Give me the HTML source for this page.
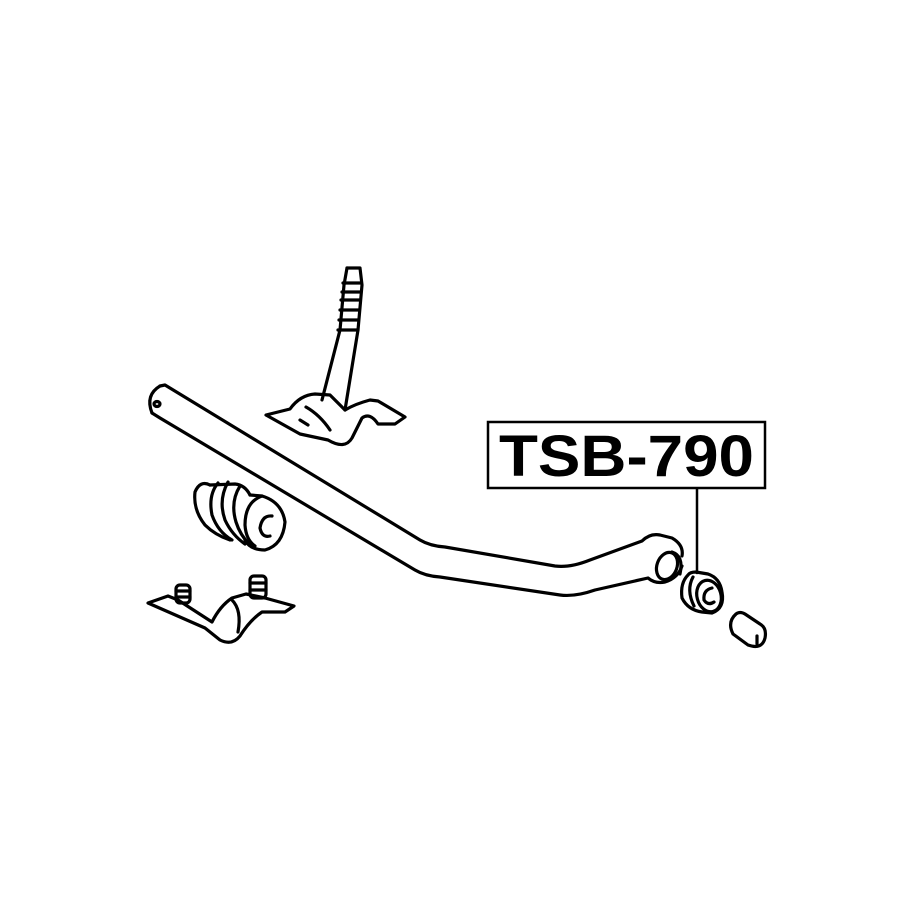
<!DOCTYPE html>
<html><head><style>
html,body{margin:0;padding:0;background:#fff;}
svg{display:block;}
</style></head><body>
<svg width="915" height="915" viewBox="0 0 915 915" xmlns="http://www.w3.org/2000/svg">
<rect width="915" height="915" fill="#fff"/>
<g fill="none" stroke="#000" stroke-width="3.2" stroke-linejoin="round" stroke-linecap="round">
<path d="M160,386 L165,385 L420,540 Q430,546 445,547 L555,566 Q570,568 590,560 L642,541 Q650,533 660,535 L672,538 Q684,545 682,556"/>
<path d="M152,413 L160,418 L415,570 Q425,576 440,577 L560,595 Q575,597 595,590 L648,578 Q655,584 665,582 Q678,578 682,566"/>
<path d="M160,386 Q145,395 152,413"/>
<ellipse cx="157" cy="404" rx="3" ry="2.5"/>
<ellipse cx="667" cy="566" rx="10" ry="14" transform="rotate(20 667 566)"/>
<path d="M672,552 Q684,556 680,574"/>
<path d="M347,268 L360,268 L362,285 L358,330 L345,410"/>
<path d="M347,268 L344,285 L340,330 L322,400"/>
<path d="M343,283 L360,283 M342,292 L360,292 M341,300 L359,300 M340,310 L358,310 M339,320 L358,320 M338,330 L358,330"/>
<path d="M266,415 L290,409 Q300,395 315,394 L330,395 L345,410 Q355,404 370,400 L378,401 L405,417 L395,424 L378,424 Q370,412 362,418 L352,438 Q345,450 328,440 L300,434 Z"/>
<path d="M306,407 Q320,415 330,430"/>
<path d="M308,425 L300,420"/>
<path d="M210,485 Q200,480 195,492 Q193,510 205,525 Q215,535 230,540"/>
<path d="M210,485 L235,484 Q245,485 250,495"/>
<path d="M218,483 Q208,495 212,515 Q218,532 232,540"/>
<path d="M228,482 Q218,500 225,520 Q232,535 245,544"/>
<path d="M240,486 Q230,502 236,522 Q240,535 250,545"/>
<path d="M250,495 L262,496 Q282,502 285,522 Q283,545 265,550 Q250,550 245,540"/>
<path d="M262,496 Q245,502 245,525 Q246,540 255,546"/>
<path d="M272,516 Q262,515 260,528 Q262,538 270,536"/>
<path d="M148,603 L168,596 L178,600 L212,622 Q220,606 232,598 L246,594 L265,598 L294,606 L285,612 L262,612 Q250,620 240,636 Q232,646 220,640 L205,628 Z"/>
<rect x="176" y="585" width="14" height="18" rx="4"/>
<path d="M176,591 L190,591 M176,597 L190,597"/>
<rect x="250" y="576" width="16" height="22" rx="4"/>
<path d="M250,583 L266,583 M250,590 L266,590"/>
<path d="M232,600 Q242,610 238,632"/>
<path d="M688,575 Q680,583 682,598 Q688,610 702,612 L712,613 Q725,608 722,592 Q720,578 708,574 L696,572 Q690,572 688,575"/>
<ellipse cx="709" cy="596" rx="12" ry="16" transform="rotate(-15 709 596)"/>
<path d="M693,577 Q686,590 694,606"/>
<path d="M712,588 Q703,590 704,600 Q708,606 714,602"/>
<path d="M736,614 Q727,622 733,634 L748,645 Q762,650 765,638 Q767,628 760,624 L745,614 Q740,611 736,614"/>
<path d="M757,636 L757,644"/>
<path d="M697,489 L697,573" stroke-width="2.5"/>
</g>
<rect x="488" y="422" width="277" height="66" fill="#fff" stroke="#000" stroke-width="2.5"/>
<text x="626.5" y="476" font-family="Liberation Sans, Arial, sans-serif" font-weight="bold" font-size="58" text-anchor="middle" fill="#000" textLength="255" lengthAdjust="spacingAndGlyphs">TSB-790</text>
</svg>
</body></html>
